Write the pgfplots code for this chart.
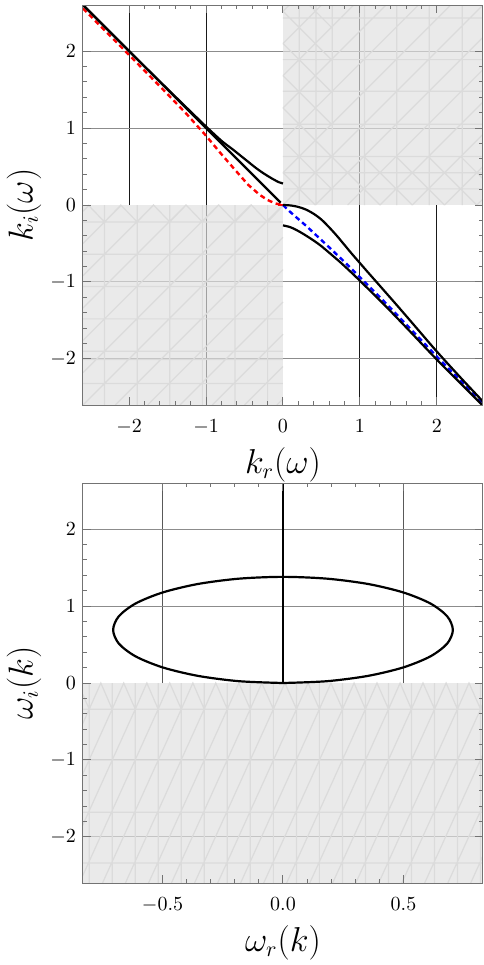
\documentclass[border=0pt]{standalone}
\usepackage{pgfplots}
\pgfplotsset{compat=1.18}

\pgfplotsset{
  panel/.style={
    scale only axis, width=200pt, height=200pt,
    axis on top, no markers, unbounded coords=jump,
    axis line style={black!55, line width=0.5pt},
    tick style={black!55, line width=0.5pt},
    tick align=inside,
    major tick length=4pt, minor tick length=2pt,
    xtick pos=both, ytick pos=both,
    xticklabel pos=lower, yticklabel pos=left,
    minor tick num=4,
    ymin=-2.6, ymax=2.6, ytick={-2,-1,0,1,2},
    x tick label style={yshift=-3.8pt},
    label style={font=\fontsize{16}{19}\selectfont},
    xlabel style={at={(axis description cs:0.5,-0.15)}, anchor=center},
    ylabel style={at={(axis description cs:-0.1475,0.5)}, anchor=center},
  },
  shade/.style={draw=none, fill=black!12, fill opacity=0.68},
  meshln/.style={draw=black!14, line width=0.6pt},
  hgrid/.style={black!45, line width=0.5pt},
  curve/.style={black, line width=1.1pt},
  dashcurve/.style={line width=1.2pt, dash pattern=on 2.5pt off 1.8pt},
}

\begin{document}
\begin{tikzpicture}

%% top panel: k(omega)
\begin{axis}[panel, at={(0pt,0pt)}, anchor=south west,
  xmin=-2.6, xmax=2.6, xtick={-2,-1,0,1,2},
  xlabel={$k_r(\omega)$}, ylabel={$k_i(\omega)$}]
% grid
\addplot[black!90, line width=0.5pt] coordinates {(-2,0) (-2,2.6) (0,nan) (-1,-2.6) (-1,2.6) (0,nan)
  (1,-2.6) (1,2.6) (0,nan) (2,-2.6) (2,0)};
\addplot[hgrid] coordinates {(-2.6,-2) (2.6,-2) (0,nan) (-2.6,-1) (2.6,-1) (0,nan)
  (-2.6,1) (2.6,1) (0,nan) (-2.6,2) (2.6,2)};
% shaded quadrants
\addplot[shade] coordinates {(-2.6,-2.6) (0,-2.6) (0,0) (-2.6,0)} -- cycle;
\addplot[shade] coordinates {(0,0) (2.6,0) (2.6,2.6) (0,2.6)} -- cycle;
% mesh, lower left
\addplot[meshln] coordinates {
  (-2.32,-2.6) (-2.32,0) (0,nan) (-1.896,-2.6) (-1.896,0) (0,nan)
  (-1.472,-2.6) (-1.472,0) (0,nan) (-1.048,-2.6) (-1.048,0) (0,nan)
  (-0.624,-2.6) (-0.624,0) (0,nan) (-0.2,-2.6) (-0.2,0) (0,nan)
  (-2.6,-0.22) (0,-0.22) (0,nan) (-2.6,-0.64) (0,-0.64) (0,nan)
  (-2.6,-1.06) (0,-1.06) (0,nan) (-2.6,-1.48) (0,-1.48) (0,nan)
  (-2.6,-1.9) (0,-1.9) (0,nan) (-2.6,-2.01) (0,-2.01) (0,nan)
  (-2.6,-2.32) (0,-2.32) (0,nan)
  (-2.6,-0.08) (-2.52,0) (0,nan) (-2.6,-0.5) (-2.1,0) (0,nan)
  (-2.6,-0.92) (-1.68,0) (0,nan) (-2.6,-1.34) (-1.26,0) (0,nan)
  (-2.6,-1.76) (-0.84,0) (0,nan) (-2.6,-2.18) (-0.42,0) (0,nan)
  (-2.6,-2.6) (0,0) (0,nan) (-2.18,-2.6) (0,-0.42) (0,nan)
  (-1.76,-2.6) (0,-0.84) (0,nan) (-1.34,-2.6) (0,-1.26) (0,nan)
  (-0.92,-2.6) (0,-1.68) (0,nan) (-0.5,-2.6) (0,-2.1) (0,nan)
  (-0.08,-2.6) (0,-2.52) (0,nan)
  (-2.532,0) (-2.32,-0.22) (-2.108,0) (-1.896,-0.22) (-1.684,0) (-1.472,-0.22)
  (-1.26,0) (-1.048,-0.22) (-0.836,0) (-0.624,-0.22) (-0.412,0) (-0.2,-0.22) (0,-0.01)};
% mesh, upper right
\addplot[meshln] coordinates {
  (0.21,0) (0.21,2.6) (0,nan) (0.43,0) (0.43,2.6) (0,nan) (0.64,0) (0.64,2.6) (0,nan)
  (1.06,0) (1.06,2.6) (0,nan) (1.48,0) (1.48,2.6) (0,nan) (1.9,0) (1.9,2.6) (0,nan)
  (2.33,0) (2.33,2.6) (0,nan)
  (0,0.21) (2.6,0.21) (0,nan) (0,0.42) (2.6,0.42) (0,nan) (0,0.63) (2.6,0.63) (0,nan)
  (0,1.05) (2.6,1.05) (0,nan) (0,1.48) (2.6,1.48) (0,nan) (0,1.89) (2.6,1.89) (0,nan)
  (0,2.43) (2.6,2.43) (0,nan)
  (0,2.52) (0.08,2.6) (0,nan) (0,2.1) (0.5,2.6) (0,nan) (0,1.68) (0.92,2.6) (0,nan)
  (0,1.26) (1.34,2.6) (0,nan) (0,0.84) (1.76,2.6) (0,nan) (0,0.42) (2.18,2.6) (0,nan)
  (0,0) (2.6,2.6) (0,nan) (0.42,0) (2.6,2.18) (0,nan) (0.84,0) (2.6,1.76) (0,nan)
  (1.26,0) (2.6,1.34) (0,nan) (1.68,0) (2.6,0.92) (0,nan) (2.1,0) (2.6,0.5) (0,nan)
  (2.52,0) (2.6,0.08) (0,nan)
  (0,0.42) (0.42,0) (0,nan) (0,0.84) (0.64,0.2) (0,nan) (0,1.26) (0.64,0.62) (0,nan)
  (0,1.68) (0.64,1.04) (0,nan) (0,2.1) (0.64,1.46) (0,nan) (0,2.52) (0.64,1.88) (0,nan)
  (0.34,2.6) (0.64,2.3) (0,nan)
  (0.63,0.63) (1.26,0) (0,nan) (1.05,0.63) (1.68,0) (0,nan) (1.47,0.63) (2.1,0) (0,nan)
  (1.89,0.63) (2.52,0) (0,nan) (2.31,0.63) (2.6,0.34)};
% branches
\addplot[red, dashcurve] coordinates {
  (-2.6,2.555) (-2.0,1.95) (-1.5,1.44) (-1.25,1.18) (-1.0,0.9) (-0.8,0.66)
  (-0.6,0.43) (-0.45,0.26) (-0.3,0.13) (-0.2,0.065) (-0.1,0.02) (0,0)};
\addplot[red, line width=1.2pt] coordinates {(-0.06,0) (0,0)};
\addplot[blue, dashcurve] coordinates {
  (0,0) (0.06,-0.06) (0.15,-0.14) (0.3,-0.27) (0.45,-0.41) (0.6,-0.55) (0.8,-0.74)
  (1.0,-0.94) (1.3,-1.24) (1.6,-1.55) (2.0,-1.97) (2.6,-2.58)};
\addplot[curve] coordinates {(-2.6,2.6) (-0.03,0.03)};
\addplot[curve, smooth] coordinates {
  (-2.6,2.6) (-2.0,2.0) (-1.6,1.605) (-1.34,1.35) (-1.15,1.165) (-1.0,1.02)
  (-0.8,0.835) (-0.65,0.72) (-0.5,0.6) (-0.35,0.48) (-0.25,0.41) (-0.17,0.36)
  (-0.1,0.32) (-0.05,0.295) (0,0.28)};
\addplot[curve, smooth] coordinates {
  (0,0) (0.1,-0.006) (0.2,-0.025) (0.3,-0.06) (0.4,-0.115) (0.5,-0.19) (0.6,-0.29)
  (0.7,-0.4) (0.8,-0.52) (0.9,-0.64) (1.0,-0.755) (1.1,-0.87) (1.25,-1.04)
  (1.5,-1.325) (1.75,-1.615) (2.0,-1.905) (2.3,-2.235) (2.6,-2.555)};
\addplot[curve, smooth] coordinates {
  (0,-0.265) (0.1,-0.29) (0.22,-0.35) (0.35,-0.43) (0.48,-0.52) (0.6,-0.62)
  (0.74,-0.74) (0.87,-0.86) (1.0,-0.985) (1.3,-1.28) (1.6,-1.59) (2.0,-2.01)
  (2.3,-2.31) (2.6,-2.61)};
\end{axis}

%% bottom panel: omega(k)
\begin{axis}[panel, at={(0pt,-239pt)}, anchor=south west,
  xmin=-0.83, xmax=0.83, xtick={-0.5,0,0.5}, xticklabels={$-0.5$,$0.0$,$0.5$},
  xlabel={$\omega_r(k)$}, ylabel={$\omega_i(k)$}]
\addplot[black!65, line width=0.5pt] coordinates {(-0.5,0) (-0.5,2.6) (0,nan) (0.5,0) (0.5,2.6)};
\addplot[hgrid] coordinates {(-0.83,-2) (0.83,-2) (0,nan) (-0.83,-1) (0.83,-1) (0,nan)
  (-0.83,1) (0.83,1) (0,nan) (-0.83,2) (0.83,2)};
\addplot[shade] coordinates {(-0.83,-2.6) (0.83,-2.6) (0.83,0) (-0.83,0)} -- cycle;
\addplot[meshln] coordinates {
  (-0.804,-2.6) (-0.804,0) (0,nan) (-0.709,-2.6) (-0.709,0) (0,nan)
  (-0.613,-2.6) (-0.613,0) (0,nan) (-0.518,-2.6) (-0.518,0) (0,nan)
  (-0.422,-2.6) (-0.422,0) (0,nan) (-0.327,-2.6) (-0.327,0) (0,nan)
  (-0.231,-2.6) (-0.231,0) (0,nan) (-0.136,-2.6) (-0.136,0) (0,nan)
  (-0.04,-2.6) (-0.04,0) (0,nan) (0.056,-2.6) (0.056,0) (0,nan)
  (0.151,-2.6) (0.151,0) (0,nan) (0.247,-2.6) (0.247,0) (0,nan)
  (0.342,-2.6) (0.342,0) (0,nan) (0.438,-2.6) (0.438,0) (0,nan)
  (0.533,-2.6) (0.533,0) (0,nan) (0.629,-2.6) (0.629,0) (0,nan)
  (0.724,-2.6) (0.724,0) (0,nan) (0.82,-2.6) (0.82,0) (0,nan)
  (-0.83,-0.34) (0.83,-0.34) (0,nan) (-0.83,-1.0) (0.83,-1.0) (0,nan)
  (-0.83,-1.68) (0.83,-1.68) (0,nan) (-0.83,-2.34) (0.83,-2.34) (0,nan)
  (-0.804,-0.34) (-1.131,-2.6) (0,nan) (-0.709,-0.34) (-1.036,-2.6) (0,nan)
  (-0.613,-0.34) (-0.94,-2.6) (0,nan) (-0.518,-0.34) (-0.845,-2.6) (0,nan)
  (-0.422,-0.34) (-0.749,-2.6) (0,nan) (-0.327,-0.34) (-0.654,-2.6) (0,nan)
  (-0.231,-0.34) (-0.558,-2.6) (0,nan) (-0.136,-0.34) (-0.463,-2.6) (0,nan)
  (-0.04,-0.34) (-0.367,-2.6) (0,nan) (0.056,-0.34) (-0.271,-2.6) (0,nan)
  (0.151,-0.34) (-0.176,-2.6) (0,nan) (0.247,-0.34) (-0.08,-2.6) (0,nan)
  (0.342,-0.34) (0.015,-2.6) (0,nan) (0.438,-0.34) (0.111,-2.6) (0,nan)
  (0.533,-0.34) (0.206,-2.6) (0,nan) (0.629,-0.34) (0.302,-2.6) (0,nan)
  (0.724,-0.34) (0.397,-2.6) (0,nan) (0.82,-0.34) (0.493,-2.6) (0,nan)
  (0.915,-0.34) (0.588,-2.6) (0,nan) (1.011,-0.34) (0.684,-2.6) (0,nan)
  (1.106,-0.34) (0.779,-2.6) (0,nan)
  (-0.9,-0.34) (-0.852,0) (-0.804,-0.34) (-0.756,0) (-0.709,-0.34) (-0.661,0)
  (-0.613,-0.34) (-0.565,0) (-0.518,-0.34) (-0.47,0) (-0.422,-0.34) (-0.374,0)
  (-0.327,-0.34) (-0.279,0) (-0.231,-0.34) (-0.183,0) (-0.136,-0.34) (-0.088,0)
  (-0.04,-0.34) (0.008,0) (0.056,-0.34) (0.104,0) (0.151,-0.34) (0.199,0)
  (0.247,-0.34) (0.295,0) (0.342,-0.34) (0.39,0) (0.438,-0.34) (0.486,0)
  (0.533,-0.34) (0.581,0) (0.629,-0.34) (0.677,0) (0.724,-0.34) (0.772,0)
  (0.82,-0.34) (0.868,0)};
\addplot[curve, smooth] coordinates {
  (0,0) (0.1825,0.0235) (0.3525,0.0924) (0.4985,0.202) (0.611,0.345) (0.681,0.511)
  (0.705,0.69) (0.681,0.869) (0.611,1.035) (0.4985,1.178) (0.3525,1.2876) (0.1825,1.3565)
  (0,1.38) (-0.1825,1.3565) (-0.3525,1.2876) (-0.4985,1.178) (-0.611,1.035) (-0.681,0.869)
  (-0.705,0.69) (-0.681,0.511) (-0.611,0.345) (-0.4985,0.202) (-0.3525,0.0924)
  (-0.1825,0.0235) (0,0)};
\addplot[curve] coordinates {(0,0) (0,2.6)};
\end{axis}

\pgfresetboundingbox
\path[use as bounding box] (-41.5pt,-280pt) rectangle (200pt,202.5pt);
\end{tikzpicture}
\end{document}
